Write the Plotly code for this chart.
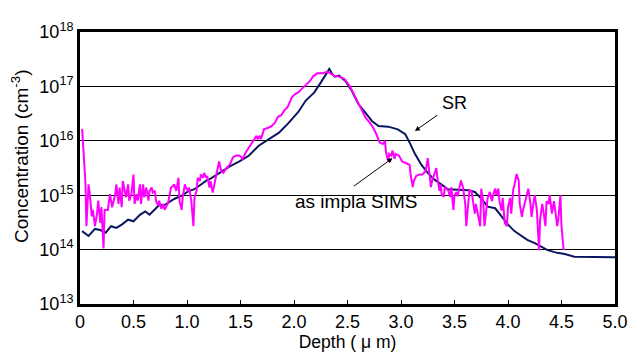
import plotly.graph_objects as go

# SR profile (depth in um, log10 concentration)
sr_depth = [0.02, 0.08, 0.14, 0.19, 0.24, 0.29, 0.34, 0.39, 0.45, 0.50, 0.56, 0.61, 0.65, 0.70, 0.74,
            0.79, 0.84, 0.88, 0.95, 1.01, 1.07, 1.13, 1.19, 1.21, 1.30, 1.40, 1.49, 1.58, 1.67, 1.77,
            1.86, 1.95, 2.04, 2.11, 2.19, 2.25, 2.33, 2.36, 2.38, 2.42, 2.48, 2.54, 2.60, 2.67, 2.73,
            2.79, 2.88, 2.97, 3.04, 3.08, 3.13, 3.19, 3.25, 3.31, 3.38, 3.44, 3.53, 3.63, 3.69, 3.75,
            3.81, 3.88, 3.94, 4.00, 4.06, 4.12, 4.18, 4.25, 4.31, 4.37, 4.46, 4.53, 4.62, 4.74, 4.86, 5.00]
sr_log = [14.34, 14.25, 14.38, 14.36, 14.31, 14.43, 14.40, 14.46, 14.55, 14.52, 14.64, 14.70, 14.64, 14.73, 14.82,
          14.82, 14.88, 14.93, 14.99, 15.07, 15.11, 15.20, 15.28, 15.29, 15.41, 15.53, 15.62, 15.73, 15.91, 16.03,
          16.15, 16.33, 16.53, 16.74, 16.89, 17.07, 17.32, 17.22, 17.18, 17.20, 17.10, 16.92, 16.68, 16.51, 16.36,
          16.27, 16.26, 16.21, 16.12, 15.97, 15.76, 15.56, 15.41, 15.29, 15.20, 15.11, 15.10, 15.09, 15.06, 14.94,
          14.79, 14.76, 14.61, 14.46, 14.34, 14.26, 14.18, 14.12, 14.05, 13.99, 13.94, 13.92, 13.87, 13.87, 13.87, 13.86]

# as-implanted SIMS profile
sims_depth = [0.02, 0.03, 0.05, 0.06, 0.08, 0.09, 0.11, 0.12, 0.14, 0.16, 0.17, 0.19, 0.20, 0.22, 0.23,
              0.26, 0.28, 0.30, 0.33, 0.34, 0.36, 0.37, 0.39, 0.40, 0.42, 0.43, 0.45, 0.46, 0.48, 0.50,
              0.51, 0.53, 0.54, 0.56, 0.57, 0.59, 0.60, 0.62, 0.64, 0.65, 0.67, 0.68, 0.70, 0.71, 0.73,
              0.74, 0.76, 0.78, 0.79, 0.82, 0.84, 0.85, 0.87, 0.88, 0.90, 0.92, 0.93, 0.95, 0.96, 0.98,
              0.99, 1.01, 1.02, 1.04, 1.06, 1.07, 1.09, 1.10, 1.12, 1.13, 1.15, 1.16, 1.18, 1.19, 1.21,
              1.22, 1.24, 1.26, 1.29, 1.30, 1.32, 1.34, 1.37, 1.40, 1.43, 1.46, 1.49, 1.52, 1.55, 1.59,
              1.62, 1.65, 1.66, 1.68, 1.69, 1.72, 1.76, 1.79, 1.82, 1.85, 1.88, 1.91, 1.94, 1.98, 2.01,
              2.04, 2.07, 2.10, 2.15, 2.18, 2.22, 2.27, 2.31, 2.34, 2.38, 2.42, 2.47, 2.52, 2.55, 2.58,
              2.61, 2.64, 2.67, 2.71, 2.74, 2.77, 2.80, 2.83, 2.85, 2.86, 2.88, 2.89, 2.91, 2.92, 2.94,
              2.95, 2.98, 3.01, 3.05, 3.08, 3.09, 3.11, 3.12, 3.14, 3.17, 3.20, 3.23, 3.25, 3.26, 3.28,
              3.29, 3.33, 3.34, 3.36, 3.37, 3.38, 3.40, 3.41, 3.44, 3.46, 3.47, 3.49, 3.50, 3.52, 3.53,
              3.55, 3.56, 3.58, 3.60, 3.61, 3.63, 3.64, 3.66, 3.67, 3.69, 3.70, 3.72, 3.74, 3.75, 3.77,
              3.78, 3.80, 3.81, 3.83, 3.85, 3.86, 3.88, 3.89, 3.91, 3.92, 3.94, 3.95, 3.97, 3.99, 4.00,
              4.02, 4.03, 4.05, 4.06, 4.08, 4.10, 4.11, 4.13, 4.14, 4.16, 4.18, 4.19, 4.21, 4.22, 4.24,
              4.25, 4.27, 4.29, 4.30, 4.32, 4.33, 4.35, 4.36, 4.38, 4.39, 4.41, 4.43, 4.44, 4.46, 4.47,
              4.49, 4.50, 4.52]
sims_log = [16.22, 15.91, 15.26, 14.43, 15.20, 15.05, 14.61, 14.73, 14.43, 14.67, 14.90, 14.49, 14.78, 14.02, 14.73,
            14.73, 15.02, 14.78, 15.02, 15.20, 14.84, 15.14, 14.78, 15.26, 15.02, 14.96, 15.20, 14.90, 15.02, 15.38,
            14.84, 15.02, 14.90, 15.20, 14.84, 15.20, 14.96, 15.14, 14.90, 15.08, 15.14, 15.05, 15.08, 14.90, 14.81,
            14.90, 14.75, 14.84, 14.73, 14.84, 15.02, 15.14, 15.17, 15.20, 15.08, 15.32, 14.90, 14.73, 14.96, 15.20,
            15.14, 15.08, 15.14, 14.90, 14.43, 14.96, 15.08, 15.32, 15.26, 15.38, 15.32, 15.41, 15.32, 15.35, 15.14,
            15.26, 15.05, 15.26, 15.50, 15.62, 15.44, 15.41, 15.50, 15.56, 15.70, 15.73, 15.73, 15.67, 15.79, 15.91,
            16.00, 16.09, 16.03, 16.09, 16.03, 16.21, 16.24, 16.27, 16.33, 16.44, 16.47, 16.56, 16.62, 16.80, 16.86,
            16.89, 16.95, 17.01, 17.10, 17.19, 17.24, 17.24, 17.27, 17.24, 17.19, 17.18, 17.14, 17.01, 16.89, 16.77,
            16.65, 16.53, 16.42, 16.33, 16.24, 16.12, 15.97, 15.94, 16.00, 15.79, 15.62, 15.76, 15.73, 15.82, 15.67,
            15.76, 15.73, 15.62, 15.59, 15.56, 15.38, 15.15, 15.26, 15.35, 15.38, 15.38, 15.44, 15.68, 15.50, 15.15,
            15.26, 15.50, 15.32, 15.08, 15.20, 15.02, 14.97, 15.15, 15.09, 14.97, 15.15, 14.73, 15.00, 15.06, 14.98,
            15.14, 15.27, 15.14, 14.85, 14.43, 14.95, 15.10, 15.06, 14.95, 14.66, 14.84, 14.60, 14.43, 15.12, 14.84,
            14.43, 14.72, 14.95, 15.06, 14.89, 15.00, 15.12, 15.00, 15.12, 14.89, 14.72, 14.95, 14.49, 14.43, 14.78,
            14.95, 14.66, 15.12, 15.18, 15.39, 15.27, 14.84, 14.60, 14.72, 14.89, 15.00, 15.12, 14.84, 14.60, 14.89,
            15.00, 14.72, 13.99, 14.55, 14.84, 14.72, 14.43, 14.89, 14.84, 15.00, 14.66, 14.89, 14.72, 14.43, 14.55,
            15.00, 14.43, 13.99]

x_ticks = [0, 0.5, 1.0, 1.5, 2.0, 2.5, 3.0, 3.5, 4.0, 4.5, 5.0]
x_ticktext = ["0", "0.5", "1.0", "1.5", "2.0", "2.5", "3.0", "3.5", "4.0", "4.5", "5.0"]
y_exponents = [13, 14, 15, 16, 17, 18]

FONT = "Liberation Sans, Arial, sans-serif"

fig = go.Figure()
fig.add_trace(go.Scatter(x=sr_depth, y=[10 ** v for v in sr_log], mode="lines",
                         line=dict(color="#0b1660", width=2), name="SR"))
fig.add_trace(go.Scatter(x=sims_depth, y=[10 ** v for v in sims_log], mode="lines",
                         line=dict(color="#ff00ff", width=2), name="as impla SIMS"))

# page body has an 8px margin, so the figure is drawn 8px in from the window edge
fig.update_layout(
    width=632, height=353,
    margin=dict(l=72, r=24, t=14, b=57),
    paper_bgcolor="white", plot_bgcolor="white",
    showlegend=False,
    font=dict(family=FONT, color="black"),
)
fig.update_xaxes(
    range=[0, 5], tickvals=x_ticks, ticktext=x_ticktext,
    showgrid=False, zeroline=False,
    showline=True, linecolor="black", linewidth=2.5, mirror=True,
    ticks="inside", ticklen=4, tickcolor="black", tickwidth=1,
    tickfont=dict(size=18, family=FONT),
    title=dict(text="Depth ( \u03bc m)", font=dict(size=17.5, family=FONT), standoff=1),
)
fig.update_yaxes(
    type="log", range=[13, 18],
    tickvals=[10 ** e for e in y_exponents],
    ticktext=["10<sup>%d</sup>" % e for e in y_exponents],
    showgrid=True, gridcolor="black", gridwidth=1,
    showline=True, linecolor="black", linewidth=3, mirror=True,
    ticks="", tickfont=dict(size=18, family=FONT),
)

# y-axis title placed as a rotated annotation
fig.add_annotation(x=-0.111, y=0.543, xref="paper", yref="paper", text="Concentration (cm<sup>-3</sup>)",
                   textangle=-90, showarrow=False, xanchor="center", yanchor="middle",
                   font=dict(size=19, family=FONT, color="black"))

# Labels with arrows
fig.add_annotation(x=3.13, y=16.18, xref="x", yref="y", text="", showarrow=True,
                   ax=24, ay=-17, arrowhead=2, arrowsize=1, arrowwidth=1, arrowcolor="black")
fig.add_annotation(x=3.50, y=16.69, xref="x", yref="y", text="SR", showarrow=False,
                   font=dict(size=18, family=FONT, color="black"))
fig.add_annotation(x=2.92, y=15.68, xref="x", yref="y", text="", showarrow=True,
                   ax=-40, ay=29, arrowhead=2, arrowsize=1, arrowwidth=1, arrowcolor="black")
fig.add_annotation(x=2.58, y=14.88, xref="x", yref="y", text="as impla SIMS", showarrow=False,
                   font=dict(size=19, family=FONT, color="black"))

fig.write_html("out.html")
